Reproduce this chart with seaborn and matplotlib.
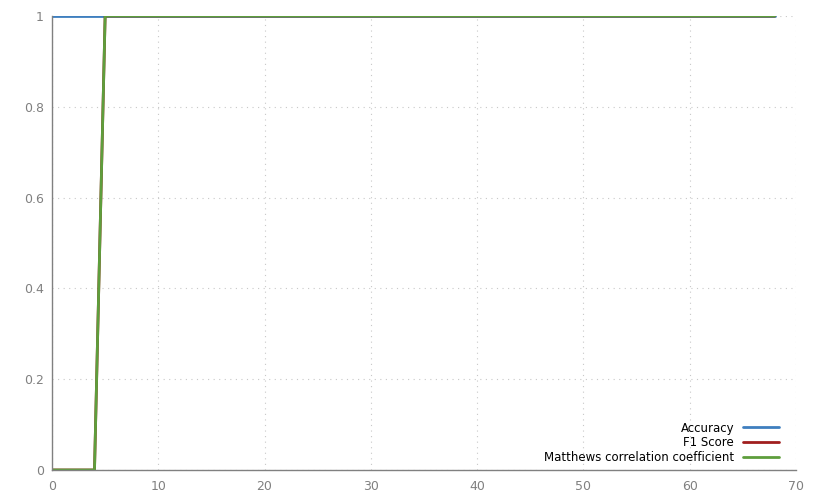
import numpy as np
import pandas as pd
import matplotlib
matplotlib.use("Agg")
import matplotlib.pyplot as plt
import seaborn as sns

# Métricas por época
epocas = list(range(0, 69))
accuracy = [1.0] * 69
f1_score = [0.0] * 5 + [1.0] * 64
mcc = [0.0] * 5 + [1.0] * 64

nomes = ["Accuracy", "F1 Score", "Matthews correlation coefficient"]
cores = ["#3f7fbf", "#a01e1e", "#5e9e3c"]

df = pd.DataFrame({
    "epoca": epocas * 3,
    "valor": accuracy + f1_score + mcc,
    "metrica": [nomes[0]] * 69 + [nomes[1]] * 69 + [nomes[2]] * 69,
})

sns.set_style("white")
plt.rcParams["font.family"] = ["DejaVu Sans"]

fig = plt.figure(figsize=(8.2, 5), dpi=100)
ax = fig.add_axes([0.0634, 0.06, 0.9073, 0.908])

sns.lineplot(data=df, x="epoca", y="valor", hue="metrica", hue_order=nomes,
             palette=cores, lw=2.0, ax=ax, legend=True)

ax.set_xlim(0, 70)
ax.set_ylim(0, 1)
ax.set_xticks(np.arange(0, 71, 10))
ax.set_yticks([0, 0.2, 0.4, 0.6, 0.8, 1.0])
ax.set_yticklabels(["0", "0.2", "0.4", "0.6", "0.8", "1"])
ax.set_xlabel("")
ax.set_ylabel("")

for lado in ["top", "right"]:
    ax.spines[lado].set_visible(False)
for lado in ["left", "bottom"]:
    ax.spines[lado].set_color("#808080")
    ax.spines[lado].set_linewidth(1.0)

ax.tick_params(axis="both", direction="in", length=5, width=1, color="#808080",
               labelcolor="#808080", labelsize=9, pad=6)
ax.tick_params(axis="x", pad=7)
ax.grid(True, linestyle=(0, (1, 4)), color="#c8c8c8", linewidth=0.8)

leg = ax.legend(loc="lower right", frameon=False, markerfirst=False,
                fontsize=8.5, handlelength=3.0, borderaxespad=0.1,
                labelspacing=0.15, bbox_to_anchor=(0.985, 0.0))
for linha in leg.get_lines():
    linha.set_linewidth(2.0)
for t in leg.get_texts():
    t.set_color("black")

fig.savefig("out.png", dpi=100)
